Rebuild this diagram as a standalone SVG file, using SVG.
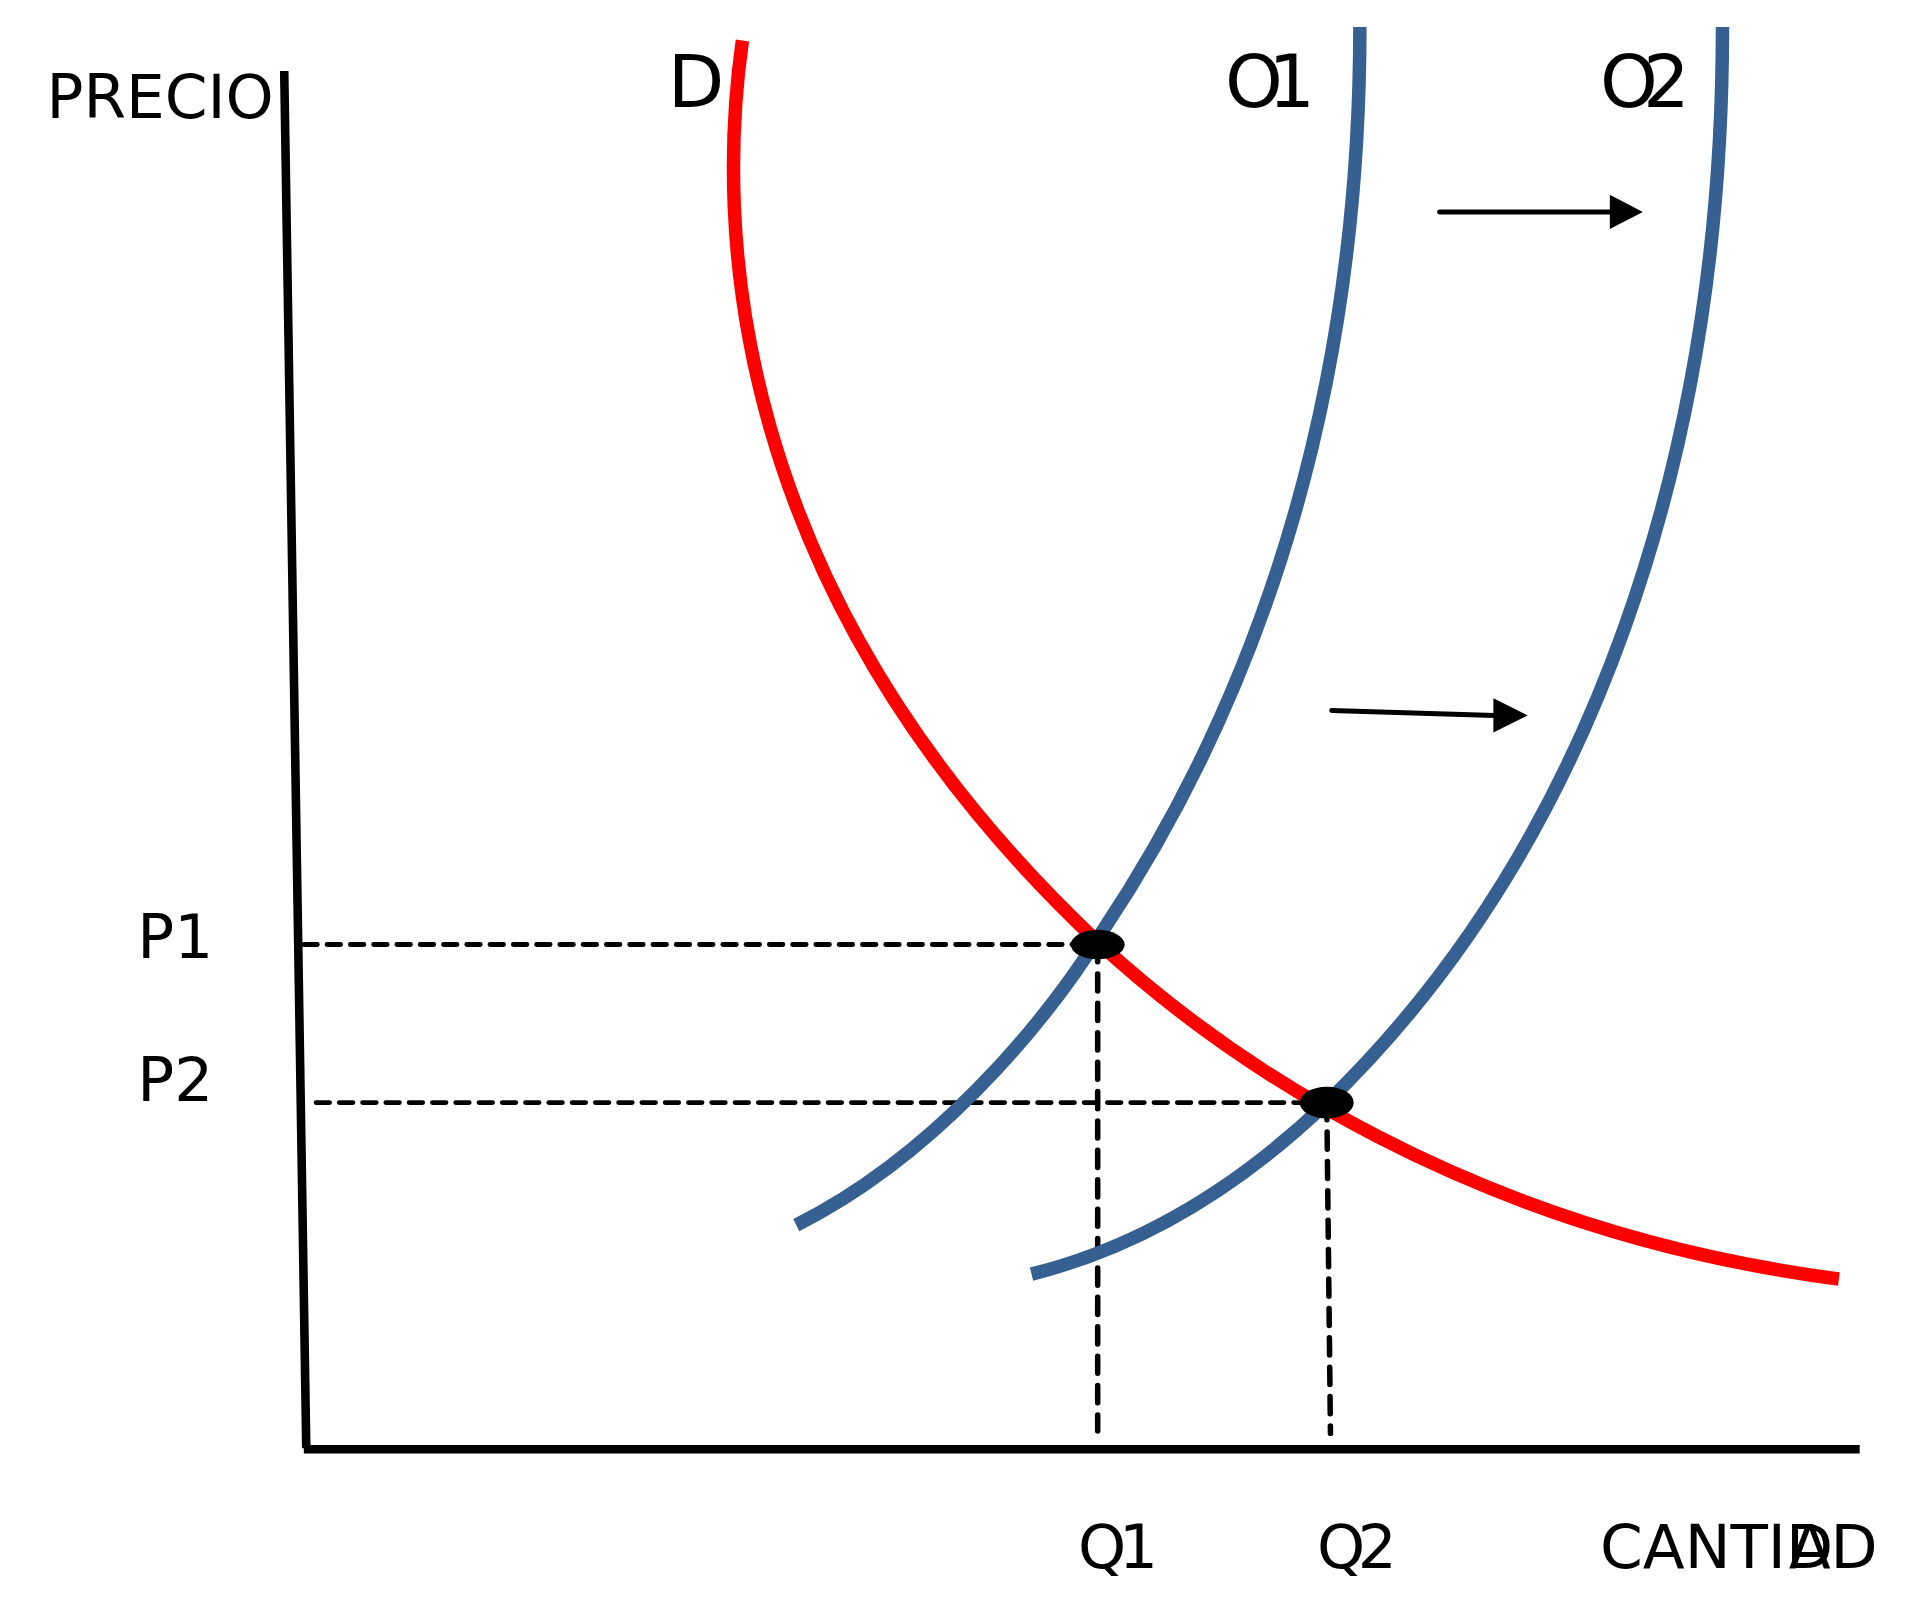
<svg xmlns="http://www.w3.org/2000/svg" width="1921" height="1606" viewBox="0 0 1921 1606">
<style>
text{font-family:"DejaVu Sans",sans-serif;fill:#000}
.lbl{font-size:50px}
.big{font-size:60px}
.dash{stroke:#000;stroke-width:4;stroke-dasharray:11,8;fill:none;stroke-linecap:round}
.vdash{stroke:#000;stroke-width:4.5;stroke-dasharray:14,10;fill:none;stroke-linecap:round}
.curve{fill:none;stroke-width:11}
</style>
<rect width="1921" height="1606" fill="#fff"/>
<g transform="scale(1.2251)">
<g id="axes" stroke="#000" stroke-width="7">
<line x1="232" y1="58" x2="250" y2="1182"/>
<line x1="248" y1="1183" x2="1518" y2="1183"/>
</g>
<g id="connectors">
<path class="dash" d="M248,771 H880"/>
<path class="dash" d="M258,900 H1075"/>
<path class="vdash" d="M896,771 V1168"/>
<path class="vdash" d="M1083,900 L1086,1170"/>
<path d="M1175,173 H1315" stroke="#000" stroke-width="4" stroke-linecap="round"/>
<path d="M1314,159 L1341,173 L1314,187z" fill="#000"/>
<path d="M1087,580 L1220,584" stroke="#000" stroke-width="4" stroke-linecap="round"/>
<path d="M1219,570 L1247,584 L1219,598z" fill="#000"/>
</g>
<g id="demand"><path class="curve" stroke="#ff0000" d="M606,33 C585,180 590,480 895,768 C1000,865 1200,1005 1501,1044"/></g>
<g id="supply1"><path class="curve" stroke="#366092" d="M650,1000 C760,945 850,840 900,760 C1040,550 1110,300 1110,22"/></g>
<g id="supply2"><path class="curve" stroke="#366092" d="M842,1040 C930,1018 1010,970 1083,900 C1300,690 1406,370 1406,22"/></g>
<g id="eq1"><ellipse cx="896" cy="771" rx="22" ry="12" fill="#000"/></g>
<g id="eq2"><ellipse cx="1083" cy="900" rx="22" ry="13" fill="#000"/></g>
<g id="labels">
<text class="lbl" x="38" y="96">PRECIO</text>
<text class="big" x="545" y="87">D</text>
<text class="big" x="1000" y="87" letter-spacing="-12">O1</text>
<text class="big" x="1306" y="87" letter-spacing="-12">O2</text>
<text class="lbl" x="112" y="782">P1</text>
<text class="lbl" x="112" y="899">P2</text>
<text class="lbl" x="880" y="1280" letter-spacing="-6">Q1</text>
<text class="lbl" x="1075" y="1280" letter-spacing="-6">Q2</text>
<text class="lbl" x="1306" y="1280">CANTID</text>
<text class="lbl" x="1460" y="1280">AD</text>
</g>
</g>
</svg>
